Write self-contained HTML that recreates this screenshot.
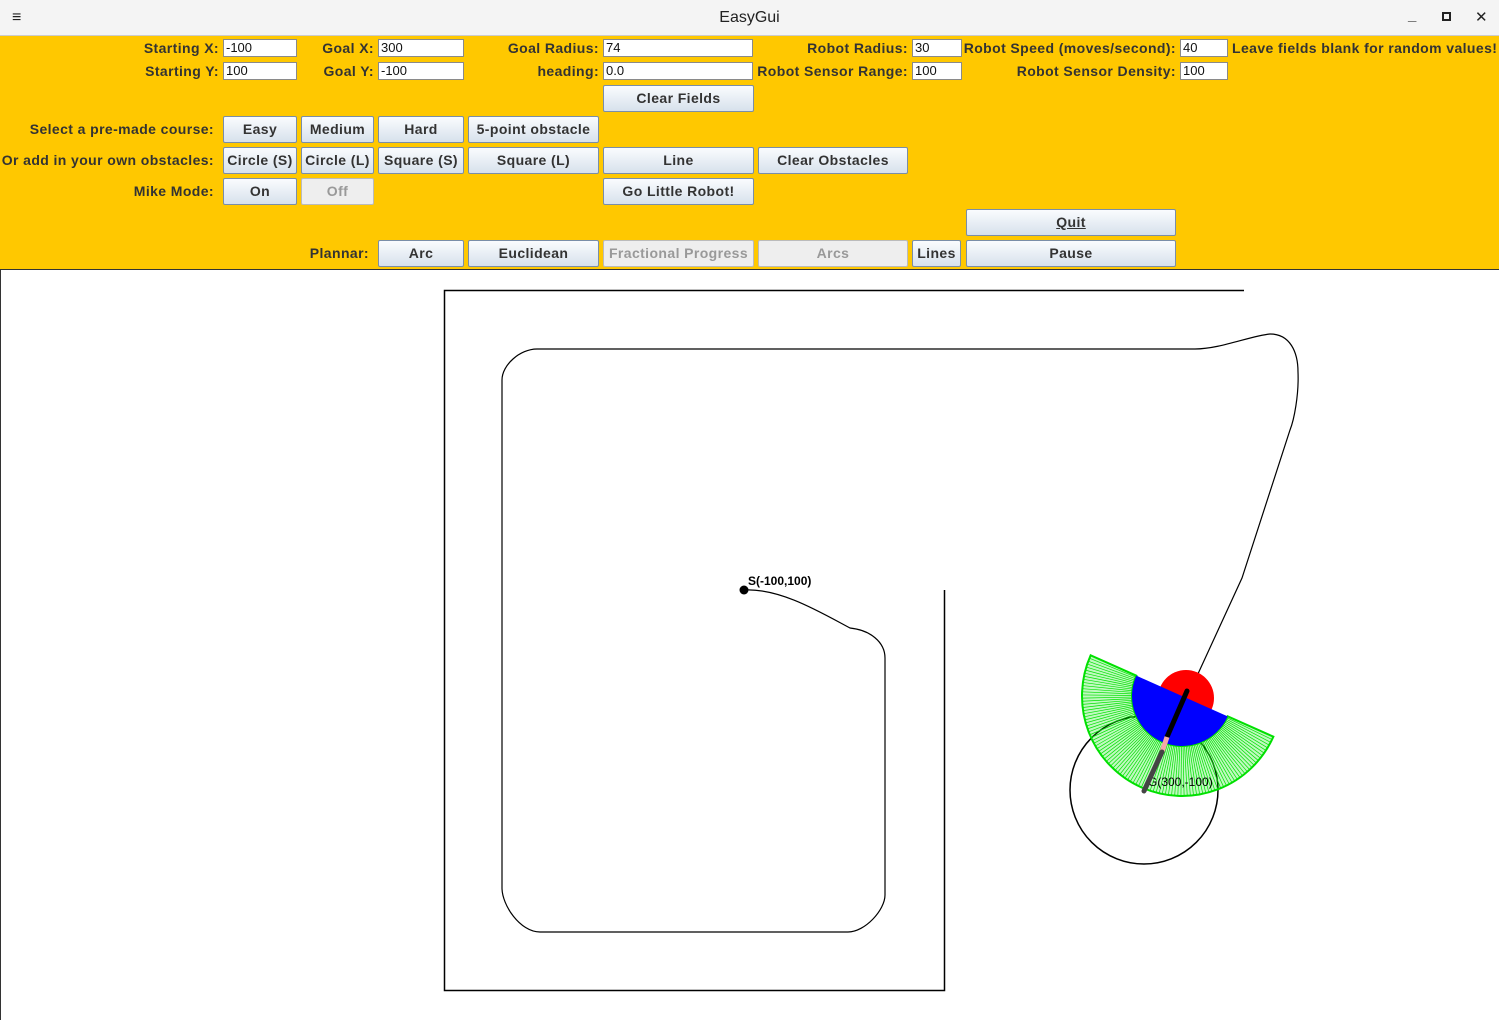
<!DOCTYPE html>
<html><head><meta charset="utf-8"><style>
*{margin:0;padding:0;box-sizing:border-box}
body{width:1499px;height:1020px;position:relative;background:#fff;font-family:"Liberation Sans","DejaVu Sans",sans-serif;overflow:hidden}
#title{position:absolute;left:0;top:0;width:1499px;height:36px;background:#f4f4f4;border-bottom:1px solid #ccc;font-size:15px;color:#222}
#panel{position:absolute;left:0;top:36px;width:1499px;height:234px;background:#ffc800;border-bottom:1px solid #333}
.l{position:absolute;font-size:14px;letter-spacing:0.4px;font-weight:bold;color:#333;white-space:nowrap;line-height:18px}
.r{text-align:right}
.f{position:absolute;height:18px;background:#fff;border:1px solid #8a8a8a;font-size:13px;line-height:16px;padding-left:2px;color:#111}
.b{position:absolute;height:27px;border:1px solid #7a8ea8;border-radius:2px;background:linear-gradient(#fafcfe,#d7e1ec);font-size:14px;letter-spacing:0.4px;font-weight:bold;color:#333;text-align:center;line-height:25px;white-space:nowrap}
.d{background:#eee;border-color:#bbb;color:#999;font-weight:bold}
</style></head><body>
<div id="title">
<div style="position:absolute;left:12px;top:9px;font-size:16px;font-weight:bold">≡</div>
<div style="position:absolute;left:0;width:1499px;top:9px;text-align:center;font-size:16px">EasyGui</div>
<div style="position:absolute;left:1408px;top:7px;font-weight:bold">_</div>
<div style="position:absolute;left:1442px;top:12px;width:9px;height:9px;border:2px solid #222"></div>
<div style="position:absolute;left:1475px;top:8px;font-weight:bold">✕</div>
</div>
<div id="panel">
<div class="l r" style="right:1280px;top:3px">Starting X:</div><div class="f" style="left:223px;top:3px;width:74px">-100</div>
<div class="l r" style="right:1125px;top:3px">Goal X:</div><div class="f" style="left:378px;top:3px;width:86px">300</div>
<div class="l r" style="right:900px;top:3px">Goal Radius:</div><div class="f" style="left:603px;top:3px;width:150px">74</div>
<div class="l r" style="right:591px;top:3px">Robot Radius:</div><div class="f" style="left:912px;top:3px;width:50px">30</div>
<div class="l r" style="right:323px;top:3px">Robot Speed (moves/second):</div><div class="f" style="left:1180px;top:3px;width:48px">40</div>
<div class="l" style="left:1232px;top:3px">Leave fields blank for random values!</div>
<div class="l r" style="right:1280px;top:26px">Starting Y:</div><div class="f" style="left:223px;top:26px;width:74px">100</div>
<div class="l r" style="right:1125px;top:26px">Goal Y:</div><div class="f" style="left:378px;top:26px;width:86px">-100</div>
<div class="l r" style="right:900px;top:26px">heading:</div><div class="f" style="left:603px;top:26px;width:150px">0.0</div>
<div class="l r" style="right:591px;top:26px">Robot Sensor Range:</div><div class="f" style="left:912px;top:26px;width:50px">100</div>
<div class="l r" style="right:323px;top:26px">Robot Sensor Density:</div><div class="f" style="left:1180px;top:26px;width:48px">100</div>
<div class="b" style="left:603px;top:49px;width:151px">Clear Fields</div>
<div class="l r" style="right:1285px;top:84px">Select a pre-made course:</div>
<div class="b" style="left:223px;top:80px;width:74px">Easy</div>
<div class="b" style="left:301px;top:80px;width:73px">Medium</div>
<div class="b" style="left:378px;top:80px;width:86px">Hard</div>
<div class="b" style="left:468px;top:80px;width:131px">5-point obstacle</div>
<div class="l r" style="right:1285px;top:115px">Or add in your own obstacles:</div>
<div class="b" style="left:223px;top:111px;width:74px">Circle (S)</div>
<div class="b" style="left:301px;top:111px;width:73px">Circle (L)</div>
<div class="b" style="left:378px;top:111px;width:86px">Square (S)</div>
<div class="b" style="left:468px;top:111px;width:131px">Square (L)</div>
<div class="b" style="left:603px;top:111px;width:151px">Line</div>
<div class="b" style="left:758px;top:111px;width:150px">Clear Obstacles</div>
<div class="l r" style="right:1285px;top:146px">Mike Mode:</div>
<div class="b" style="left:223px;top:142px;width:74px">On</div>
<div class="b d" style="left:301px;top:142px;width:73px">Off</div>
<div class="b" style="left:603px;top:142px;width:151px">Go Little Robot!</div>
<div class="b" style="left:966px;top:173px;width:210px"><u>Quit</u></div>
<div class="l r" style="right:1130px;top:208px">Plannar:</div>
<div class="b" style="left:378px;top:204px;width:86px">Arc</div>
<div class="b" style="left:468px;top:204px;width:131px">Euclidean</div>
<div class="b d" style="left:603px;top:204px;width:151px">Fractional Progress</div>
<div class="b d" style="left:758px;top:204px;width:150px">Arcs</div>
<div class="b" style="left:912px;top:204px;width:49px">Lines</div>
<div class="b" style="left:966px;top:204px;width:210px">Pause</div>
</div>
<svg style="position:absolute;left:0;top:0" width="1499" height="1020">
<line x1="0.5" y1="270" x2="0.5" y2="1020" stroke="#333"/>
<path d="M1244 290.5H444.5V990.5H944.5V590" fill="none" stroke="#000" stroke-width="1.5"/>
<path d="M744 590C780 588 820 612 850 628C870 630 885 642 885 658V895C885 910 865 932 848 932H540C520 932 502 905 502 888V380C502 365 520 349 537 349H1195C1220 349 1250 336 1270 334C1290 334 1298 352 1298 372C1299 395 1294 420 1290 430L1242 578L1197 676" fill="none" stroke="#000" stroke-width="1.2"/>
<circle cx="744" cy="590" r="4.5" fill="#000"/>
<text x="748" y="585" font-size="12" font-weight="bold" font-family="Liberation Sans">S(-100,100)</text>
<circle cx="1144" cy="790" r="74" fill="none" stroke="#000" stroke-width="1.5"/>
<g transform="translate(1182,696) rotate(24)">
<path d="M-100 0A100 100 0 0 0 100 0L50 0A50 50 0 0 1 -50 0Z" fill="rgba(0,230,0,0.25)" stroke="#00e000" stroke-width="2"/>
<g stroke="#00e000" stroke-width="0.7" id="rays"></g>
</g>
<circle cx="1186" cy="698" r="28" fill="#f00"/>
<g transform="translate(1182,696) rotate(24)"><path d="M-50 0A50 50 0 0 0 50 0Z" fill="#00f"/></g>
<text x="1148" y="786" font-size="12" font-family="Liberation Sans">G(300,-100)</text>
<line x1="1187" y1="691" x2="1167" y2="737" stroke="#000" stroke-width="5" stroke-linecap="round"/>
<line x1="1167" y1="737" x2="1162" y2="752" stroke="#f4a8a8" stroke-width="5"/>
<line x1="1162" y1="752" x2="1144" y2="791" stroke="#444" stroke-width="5" stroke-linecap="round"/>
</svg>
<script>
var g=document.getElementById('rays'),s='';
for(var i=0;i<=100;i++){var a=Math.PI*i/100;var c=Math.cos(a),n=Math.sin(a);s+='<line x1="'+(50*c)+'" y1="'+(50*n)+'" x2="'+(100*c)+'" y2="'+(100*n)+'"/>';}
g.innerHTML=s;
</script>
</body></html>
